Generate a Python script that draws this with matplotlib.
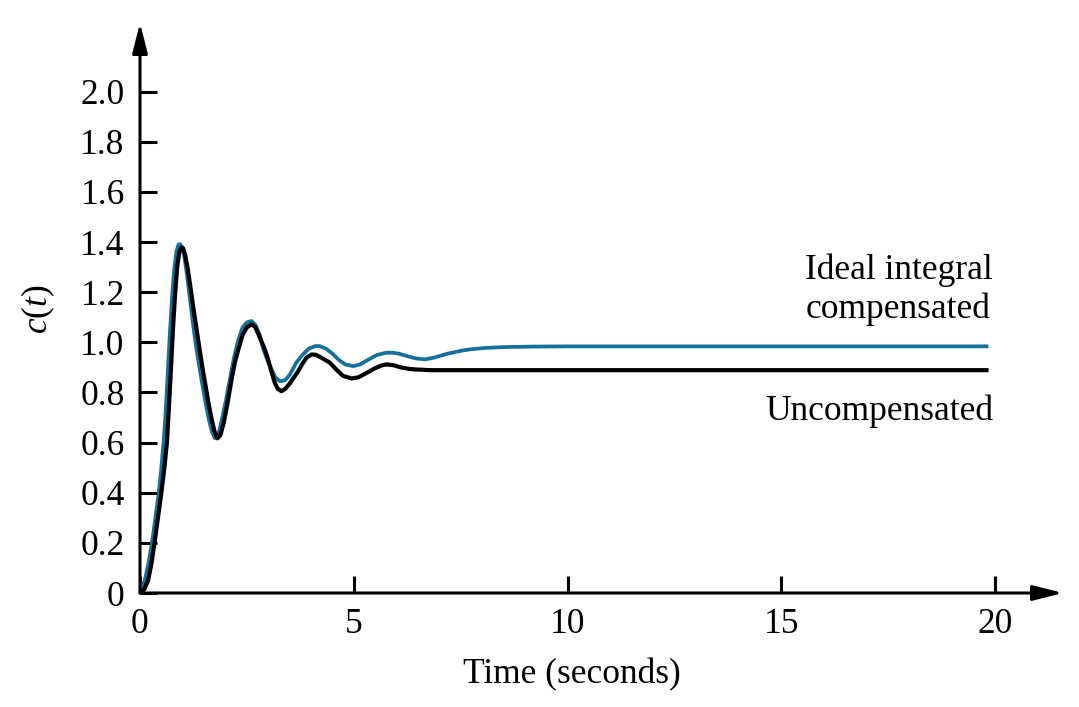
import matplotlib
matplotlib.use('Agg')
import matplotlib.pyplot as plt

plt.rcParams['font.family'] = ['Liberation Serif', 'DejaVu Serif']
plt.rcParams['mathtext.fontset'] = 'custom'
plt.rcParams['mathtext.rm'] = 'Liberation Serif'
plt.rcParams['mathtext.it'] = 'Liberation Serif:italic'

# ideal integral compensated (blue)
t_comp = [0.00, 0.05, 0.11, 0.20, 0.28, 0.36, 0.44, 0.50, 0.56, 0.60, 0.65, 0.70,
          0.75, 0.80, 0.85, 0.90, 0.94, 0.98, 1.03, 1.09, 1.15, 1.20, 1.25, 1.32,
          1.40, 1.48, 1.55, 1.62, 1.68, 1.75, 1.82, 1.90, 2.00, 2.11, 2.20, 2.30,
          2.40, 2.50, 2.61, 2.70, 2.80, 2.89, 3.00, 3.08, 3.17, 3.25, 3.31, 3.40,
          3.50, 3.66, 3.80, 3.95, 4.10, 4.20, 4.35, 4.50, 4.65, 4.80, 4.99, 5.15,
          5.35, 5.55, 5.75, 5.89, 6.05, 6.25, 6.45, 6.67, 6.90, 7.20, 7.50, 7.72,
          8.10, 8.50, 9.20, 10.0, 19.8]
c_comp = [0.00, 0.02, 0.05, 0.12, 0.20, 0.30, 0.40, 0.50, 0.62, 0.72, 0.88, 1.04,
          1.18, 1.29, 1.36, 1.39, 1.392, 1.38, 1.35, 1.28, 1.20, 1.13, 1.06, 0.975,
          0.89, 0.81, 0.745, 0.685, 0.645, 0.618, 0.625, 0.68, 0.76, 0.86, 0.94, 1.01,
          1.06, 1.08, 1.085, 1.07, 1.03, 0.97, 0.92, 0.89, 0.86, 0.847, 0.845, 0.85,
          0.87, 0.92, 0.95, 0.975, 0.985, 0.985, 0.975, 0.955, 0.93, 0.912, 0.905, 0.912,
          0.932, 0.95, 0.958, 0.959, 0.955, 0.945, 0.936, 0.932, 0.94, 0.955, 0.966, 0.972,
          0.978, 0.981, 0.983, 0.984, 0.984]

# uncompensated (black)
t_unc = [0.00, 0.10, 0.19, 0.27, 0.34, 0.42, 0.50, 0.57, 0.63, 0.67, 0.72, 0.77,
         0.82, 0.87, 0.92, 0.97, 1.01, 1.06, 1.12, 1.18, 1.25, 1.33, 1.40, 1.47,
         1.54, 1.61, 1.68, 1.75, 1.81, 1.88, 1.96, 2.05, 2.14, 2.22, 2.30, 2.40,
         2.50, 2.61, 2.70, 2.80, 2.92, 3.00, 3.08, 3.15, 3.22, 3.31, 3.40, 3.50,
         3.60, 3.70, 3.80, 3.90, 4.02, 4.12, 4.25, 4.44, 4.60, 4.75, 4.95, 5.10,
         5.30, 5.50, 5.65, 5.77, 5.95, 6.10, 6.30, 6.43, 6.80, 19.8]
c_unc = [0.00, 0.015, 0.05, 0.12, 0.20, 0.30, 0.40, 0.50, 0.60, 0.72, 0.88, 1.05,
         1.19, 1.30, 1.36, 1.379, 1.375, 1.345, 1.29, 1.22, 1.135, 1.045, 0.965, 0.89,
         0.82, 0.75, 0.69, 0.64, 0.617, 0.63, 0.68, 0.76, 0.85, 0.92, 0.972, 1.03,
         1.06, 1.072, 1.06, 1.02, 0.972, 0.93, 0.88, 0.84, 0.815, 0.805, 0.815, 0.835,
         0.86, 0.885, 0.915, 0.94, 0.952, 0.95, 0.938, 0.919, 0.89, 0.866, 0.856, 0.86,
         0.878, 0.897, 0.908, 0.912, 0.908, 0.90, 0.894, 0.892, 0.889, 0.889]

x_ticks = [0, 5, 10, 15, 20]
y_ticks = [0, 0.2, 0.4, 0.6, 0.8, 1.0, 1.2, 1.4, 1.6, 1.8, 2.0]
y_labels = ['0', '0.2', '0.4', '0.6', '0.8', '1.0', '1.2', '1.4', '1.6', '1.8', '2.0']

fs = 25.5
fig = plt.figure(figsize=(10.79, 7.07), dpi=100)
ax = fig.add_axes([140 / 1079, 114 / 707, 923 / 1079, 570 / 707])
ax.set_xlim(0, 21.59)
ax.set_ylim(0, 2.274)

ax.plot(t_comp, c_comp, color='#16709c', lw=2.7, zorder=3, solid_joinstyle='round')
ax.plot(t_unc, c_unc, color='black', lw=3.0, zorder=4, solid_joinstyle='round')

for s in ax.spines.values():
    s.set_visible(False)

# axes with arrow heads
arrow = dict(arrowstyle='-|>,head_length=1.3,head_width=0.33', lw=2.2, color='black',
             shrinkA=0, shrinkB=0, mutation_scale=14)
ax.annotate('', xy=(21.59, 0), xytext=(0, 0), arrowprops=arrow, annotation_clip=False)
ax.annotate('', xy=(0, 2.274), xytext=(0, 0), arrowprops=arrow, annotation_clip=False)

ax.set_xticks(x_ticks)
ax.set_xticklabels([str(v) for v in x_ticks])
ax.set_yticks(y_ticks)
ax.set_yticklabels(y_labels)
ax.tick_params(direction='in', length=12, width=2.2, labelsize=fs)
ax.tick_params(axis='y', pad=11)
ax.tick_params(axis='x', pad=11)
ax.tick_params(top=False, right=False)

ax.set_xlabel('Time (seconds)', fontsize=fs)
ax.xaxis.set_label_coords(10.1 / 21.59, -0.114)
ax.set_ylabel('$c(t)$', fontsize=fs)
ax.yaxis.set_label_coords(-0.09, 0.497)

ax.text(19.95, 1.253, 'Ideal integral', ha='right', va='baseline', fontsize=fs)
ax.text(19.90, 1.097, 'compensated', ha='right', va='baseline', fontsize=fs)
ax.text(19.95, 0.690, 'Uncompensated', ha='right', va='baseline', fontsize=fs)

fig.savefig('out.png', dpi=100)
